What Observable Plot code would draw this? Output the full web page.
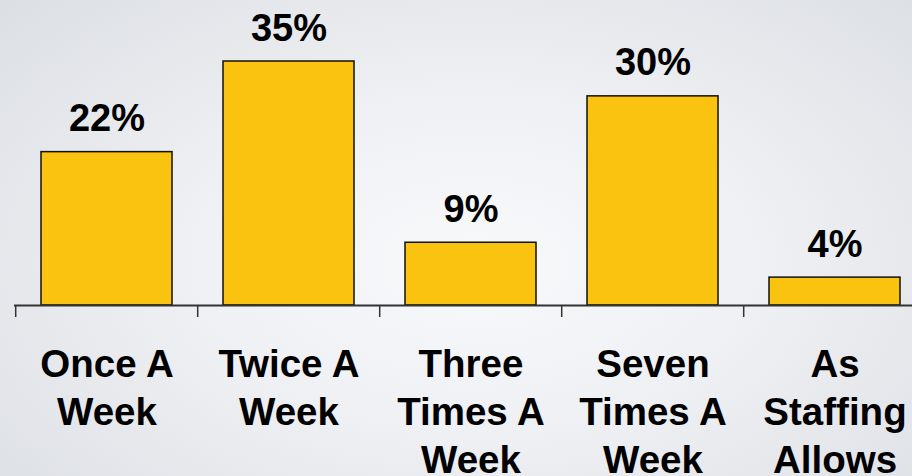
<!DOCTYPE html>
<html>
<head>
<meta charset="utf-8">
<script src="https://cdn.jsdelivr.net/npm/d3@7"></script>
<script src="https://cdn.jsdelivr.net/npm/@observablehq/plot@0.6"></script>
<style>
  html, body { margin: 0; padding: 0; overflow: hidden; width: 912px; height: 476px; }
  body {
    background: radial-gradient(ellipse 70% 80% at 52% 55%, #f8f9fb 0%, #eef0f3 45%, #dcdfe4 100%);
    font-family: "Liberation Sans", Arial, sans-serif;
  }
  #chart { width: 927px; }
  #chart svg { display: block; background: transparent; max-width: none !important; }
</style>
</head>
<body>
<div id="chart"></div>
<script>
const categories = ["Once A Week", "Twice A Week", "Three Times A Week", "Seven Times A Week", "As Staffing Allows"];
const tickLabels = ["Once A\nWeek", "Twice A\nWeek", "Three\nTimes A\nWeek", "Seven\nTimes A\nWeek", "As\nStaffing\nAllows"];
const values = [22, 35, 9, 30, 4];
const valueLabels = ["22%", "35%", "9%", "30%", "4%"];

const data = categories.map((c, i) => ({category: c, value: values[i], label: valueLabels[i]}));
const labelOf = new Map(categories.map((c, i) => [c, tickLabels[i]]));

const W = 927, marginLeft = 14;
const step = (W - marginLeft) / categories.length;

const chart = Plot.plot({
  width: W,
  height: 476,
  marginTop: 61,
  marginBottom: 171,
  marginLeft: marginLeft,
  marginRight: 0,
  style: {background: "transparent", fontFamily: "'Liberation Sans', Arial, sans-serif", overflow: "visible", maxWidth: "none"},
  x: {domain: categories, paddingInner: 0.28, paddingOuter: 0.14, align: 0.5, axis: null, label: null},
  y: {domain: [0, 35], axis: null},
  marks: [
    Plot.barY(data, {x: "category", y: "value", fill: "#F9C30F", stroke: "#111", strokeWidth: 1.5}),
    Plot.ruleY([0], {stroke: "#333", strokeWidth: 2}),
    Plot.axisX({tickSize: 12, tickFormat: null, label: null, dx: -step / 2, stroke: "#333", strokeWidth: 1.5}),
    Plot.axisX({
      tickSize: 0,
      tickPadding: 37,
      label: null,
      tickFormat: d => labelOf.get(d),
      fontSize: 38.5,
      fontWeight: "bold",
      lineHeight: 1.25,
      fill: "#000"
    }),
    Plot.text(data, {
      x: "category", y: "value", text: "label",
      lineAnchor: "bottom", dy: -21,
      fontSize: 38, fontWeight: "bold", fill: "#000"
    })
  ]
});
document.getElementById("chart").appendChild(chart);
</script>
</body>
</html>
